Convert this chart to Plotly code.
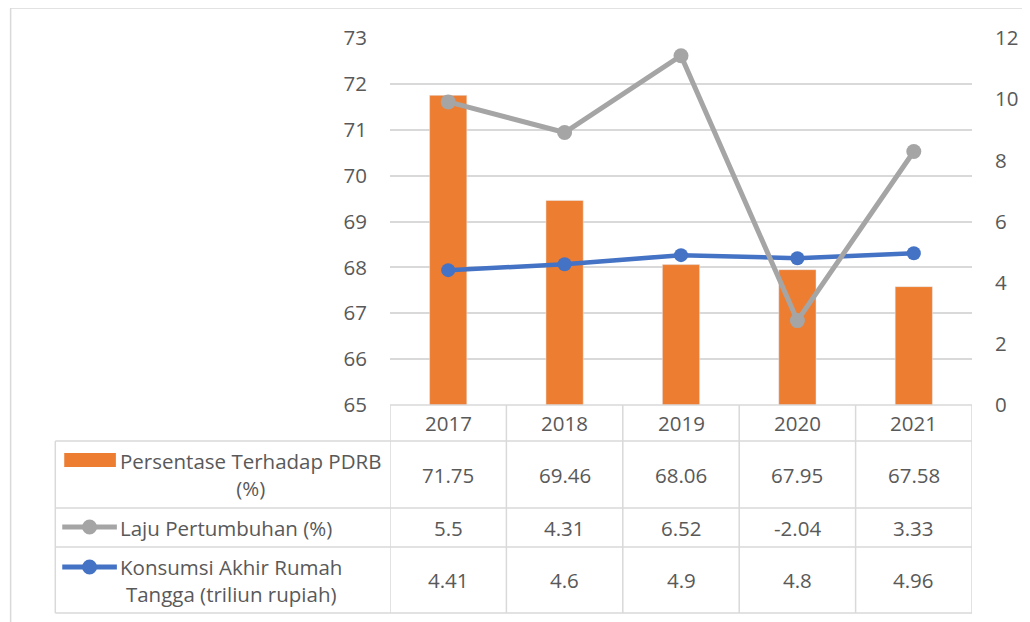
import plotly.graph_objects as go

years = ["2017", "2018", "2019", "2020", "2021"]
persentase_pdrb = [71.75, 69.46, 68.06, 67.95, 67.58]
laju_pertumbuhan = [5.5, 4.31, 6.52, -2.04, 3.33]
konsumsi_akhir = [4.41, 4.6, 4.9, 4.8, 4.96]

name_bar = "Persentase Terhadap PDRB<br>(%)"
name_gray = "Laju Pertumbuhan (%)"
name_blue = "Konsumsi Akhir Rumah<br>Tangga (triliun rupiah)"

ORANGE = "#ED7D31"
GRAY = "#A5A5A5"
BLUE = "#4472C4"
TXT = "#595959"
GRID = "#D9D9D9"
FONT = "'Open Sans', 'Noto Sans', sans-serif"
FS = 20.5

OFF = 8  # page body margin
W, H = 1030 - OFF, 622 - OFF
L, R, T, B = 390, 976, 38, 405


def px(x):
    return (x - L) / (R - L)


def py(y):
    return (B - y) / (B - T)


fig = go.Figure()
fig.add_trace(go.Bar(x=years, y=persentase_pdrb, marker_color=ORANGE, width=0.32,
                     name=name_bar, showlegend=False))
fig.add_trace(go.Scatter(x=years, y=konsumsi_akhir, yaxis="y2", stackgroup="s", fill="none",
                         mode="lines+markers", line=dict(color=BLUE, width=4.5),
                         marker=dict(size=14, color=BLUE), name=name_blue, showlegend=False))
fig.add_trace(go.Scatter(x=years, y=laju_pertumbuhan, yaxis="y2", stackgroup="s", fill="none",
                         mode="lines+markers", line=dict(color=GRAY, width=5),
                         marker=dict(size=15, color=GRAY), name=name_gray, showlegend=False))

shapes = []
line = dict(color=GRID, width=1.5)
# chart border (top & left)
shapes.append(dict(type="line", xref="paper", yref="paper", x0=px(8), x1=px(1040), y0=py(8), y1=py(8), line=dict(color=GRID, width=1.5)))
shapes.append(dict(type="line", xref="paper", yref="paper", x0=px(8), x1=px(8), y0=py(8), y1=py(640), line=dict(color=GRID, width=1.5)))

# table horizontal lines
rows_y = [441, 508, 547, 613]
shapes.append(dict(type="line", xref="paper", yref="paper", x0=0, x1=1, y0=py(405), y1=py(405), line=line))
for yy in rows_y:
    shapes.append(dict(type="line", xref="paper", yref="paper", x0=px(53), x1=1, y0=py(yy), y1=py(yy), line=line))
# vertical lines at category boundaries
for i in range(len(years) + 1):
    shapes.append(dict(type="line", xref="x", yref="paper", x0=i - 0.5, x1=i - 0.5, y0=py(405), y1=py(613), line=line))
shapes.append(dict(type="line", xref="paper", yref="paper", x0=px(53), x1=px(53), y0=py(441), y1=py(613), line=line))

# legend keys
shapes.append(dict(type="rect", xref="paper", yref="paper", x0=px(62), x1=px(114), y0=py(453), y1=py(467),
                   fillcolor=ORANGE, line=dict(width=0)))
for yk, col in [(527, GRAY), (567, BLUE)]:
    shapes.append(dict(type="line", xref="paper", yref="paper", x0=px(60), x1=px(115), y0=py(yk), y1=py(yk),
                       line=dict(color=col, width=5)))
    shapes.append(dict(type="circle", xref="paper", yref="paper", x0=px(80), x1=px(95), y0=py(yk - 7.5), y1=py(yk + 7.5),
                       fillcolor=col, line=dict(width=0)))

annotations = []
for i, yv in enumerate(years):
    annotations.append(dict(x=i, xref="x", y=py(423), yref="paper", yanchor="middle", text=yv, showarrow=False,
                            font=dict(size=FS, color=TXT, family=FONT)))
row_centers = [474.5, 527.5, 580]
for vals, yc in zip([persentase_pdrb, laju_pertumbuhan, konsumsi_akhir], row_centers):
    for i, v in enumerate(vals):
        annotations.append(dict(x=i, xref="x", y=py(yc), yref="paper", yanchor="middle", text=f"{v:g}",
                                showarrow=False, font=dict(size=FS, color=TXT, family=FONT)))
for nm, yc in zip([name_bar, name_gray, name_blue], row_centers):
    annotations.append(dict(x=px(116), xref="paper", xanchor="left", y=py(yc), yref="paper", yanchor="middle",
                            text=nm, showarrow=False, align="center",
                            font=dict(size=FS, color=TXT, family=FONT)))

fig.update_layout(
    width=W, height=H,
    margin=dict(l=L - OFF, r=W - (R - OFF), t=T - OFF, b=H - (B - OFF), pad=0),
    plot_bgcolor="white", paper_bgcolor="white",
    font=dict(family=FONT, color=TXT, size=FS),
    xaxis=dict(showticklabels=False, showgrid=False, zeroline=False, showline=False, ticks="",
               range=[-0.5, 4.5], fixedrange=True),
    yaxis=dict(range=[65, 73], dtick=1, showgrid=True, gridcolor=GRID, gridwidth=1.5, zeroline=False,
               showline=False, ticks="", ticklabelstandoff=22, tickfont=dict(size=FS, color=TXT)),
    yaxis2=dict(range=[0, 12], dtick=2, overlaying="y", side="right", showgrid=False, zeroline=False,
                showline=False, ticks="", ticklabelstandoff=22, tickfont=dict(size=FS, color=TXT)),
    shapes=shapes,
    annotations=annotations,
    showlegend=False,
)

fig.write_html("out.html")
